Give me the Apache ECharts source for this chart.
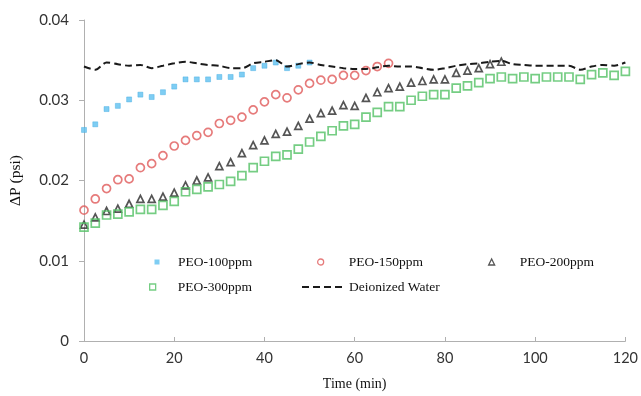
<!DOCTYPE html>
<html>
<head>
<meta charset="utf-8">
<script src="https://cdn.jsdelivr.net/npm/echarts@6/dist/echarts.min.js"></script>
<style>html,body{margin:0;padding:0;background:#fff}#c{width:641px;height:396px}</style>
</head>
<body>
<div id="c"></div>
<script>
var times = [0,2.5,5,7.5,10,12.5,15,17.5,20,22.5,25,27.5,30,32.5,35,37.5,40,42.5,45,47.5,50,52.5,55,57.5,60,62.5,65,67.5,70,72.5,75,77.5,80,82.5,85,87.5,90,92.5,95,97.5,100,102.5,105,107.5,110,112.5,115,117.5,120];
var peo100 = [0.0263,0.0270,0.0289,0.0293,0.0301,0.0307,0.0304,0.0310,0.0317,0.0326,0.0326,0.0326,0.0329,0.0329,0.0332,0.0340,0.0343,0.0347,0.0340,0.0343,0.0347];
var peo150 = [0.0163,0.0177,0.0190,0.0201,0.0202,0.0216,0.0221,0.0231,0.0243,0.0250,0.0256,0.0260,0.0271,0.0275,0.0279,0.0288,0.0298,0.0307,0.0303,0.0313,0.0321,0.0325,0.0326,0.0331,0.0331,0.0337,0.0342,0.0346];
var peo200 = [0.0145,0.0154,0.0162,0.0165,0.0171,0.0177,0.0177,0.0180,0.0185,0.0194,0.0200,0.0204,0.0218,0.0223,0.0234,0.0244,0.0250,0.0258,0.0261,0.0268,0.0277,0.0284,0.0287,0.0294,0.0293,0.0303,0.0310,0.0315,0.0317,0.0322,0.0324,0.0326,0.0326,0.0334,0.0337,0.0340,0.0345,0.0348];
var peo300 = [0.0142,0.0147,0.0157,0.0158,0.0161,0.0164,0.0164,0.0169,0.0174,0.0186,0.0189,0.0192,0.0195,0.0199,0.0206,0.0216,0.0224,0.0230,0.0232,0.0239,0.0248,0.0255,0.0262,0.0268,0.0270,0.0279,0.0285,0.0292,0.0292,0.0300,0.0305,0.0307,0.0307,0.0315,0.0318,0.0322,0.0327,0.0329,0.0327,0.0329,0.0327,0.0329,0.0329,0.0329,0.0326,0.0332,0.0334,0.0331,0.0336];
var water = [0.0342,0.0338,0.0347,0.0345,0.0343,0.0344,0.0340,0.0343,0.0346,0.0348,0.0346,0.0344,0.0343,0.0340,0.0340,0.0346,0.0348,0.0350,0.0342,0.0345,0.0347,0.0344,0.0342,0.0340,0.0339,0.0339,0.0341,0.0343,0.0342,0.0342,0.0340,0.0338,0.0340,0.0343,0.0345,0.0346,0.0348,0.0349,0.0345,0.0344,0.0343,0.0343,0.0343,0.0343,0.0338,0.0342,0.0344,0.0343,0.0347];
var xTicks = [0,20,40,60,80,100,120];
var yTicks = [0,0.01,0.02,0.03,0.04];

function pairs(vals){ return vals.map(function(v,i){ return [times[i], v]; }); }

var serif = 'Liberation Serif';
var sans = 'Lato';
var chart = echarts.init(document.getElementById('c'), null, {renderer:'canvas'});

function leg(name, left, top, w, h, pad, extra){
  var o = {data:[name], left:left, top:top, itemWidth:w, itemHeight:h, orient:'horizontal',
    textStyle:{fontFamily:serif, fontSize:13.5, color:'#111', padding:[0,0,0,pad]}, selectedMode:false, padding:0};
  if (extra) for (var k in extra) o[k] = extra[k];
  return o;
}

chart.setOption({
  animation:false,
  backgroundColor:'#fff',
  grid:{left:84, right:12, top:20, bottom:55, containLabel:false},
  legend:[
    leg('PEO-100ppm', 154.5, 255, 5, 5, 13.5, {itemStyle:{borderWidth:0}}),
    leg('PEO-150ppm', 317, 255, 6, 6, 20, {itemStyle:{borderWidth:1.3}}),
    leg('PEO-200ppm', 488, 255, 6, 6, 20, {itemStyle:{borderWidth:1.3}}),
    leg('PEO-300ppm', 149, 280, 6, 6, 17, {itemStyle:{borderWidth:1.3}}),
    leg('Deionized Water', 301, 280, 42, 12, 0,
      {itemStyle:{color:'rgba(0,0,0,0)', borderColor:'rgba(0,0,0,0)', borderWidth:0}})
  ],
  xAxis:{type:'value', min:xTicks[0], max:xTicks[xTicks.length-1], interval:20,
    name:'Time (min)', nameLocation:'middle', nameGap:36,
    nameTextStyle:{fontFamily:serif, fontSize:14, color:'#111'},
    axisLine:{lineStyle:{color:'#b0b0b0', width:1}},
    axisTick:{show:true, inside:true, length:4, lineStyle:{color:'#b0b0b0'}},
    axisLabel:{fontFamily:sans, fontSize:14.5, color:'#333', margin:10},
    splitLine:{show:false}},
  yAxis:{type:'value', min:yTicks[0], max:yTicks[yTicks.length-1], interval:0.01,
    name:'ΔP (psi)', nameLocation:'middle', nameGap:60, nameRotate:90,
    nameTextStyle:{fontFamily:serif, fontSize:15.5, color:'#111'},
    axisLine:{show:true, lineStyle:{color:'#b0b0b0', width:1}},
    axisTick:{show:true, length:5, lineStyle:{color:'#b0b0b0'}},
    axisLabel:{fontFamily:sans, fontSize:15, color:'#333', margin:15,
      formatter:function(v){ return v===0 ? '0' : v.toFixed(2); }},
    splitLine:{show:false}},
  series:[
    {name:'PEO-100ppm', type:'scatter', data:pairs(peo100), symbol:'rect', symbolSize:5,
      itemStyle:{color:'#5ec0f0', borderColor:'#3aa8e0', borderWidth:0.5}},
    {name:'PEO-150ppm', type:'scatter', data:pairs(peo150), symbol:'circle', symbolSize:8,
      itemStyle:{color:'rgba(255,255,255,0)', borderColor:'#e05a5a', borderWidth:1.7}},
    {name:'PEO-200ppm', type:'scatter', data:pairs(peo200), symbol:'triangle', symbolSize:7,
      itemStyle:{color:'rgba(255,255,255,0)', borderColor:'#2a2a2a', borderWidth:1.7}},
    {name:'PEO-300ppm', type:'scatter', data:pairs(peo300), symbol:'rect', symbolSize:8,
      itemStyle:{color:'rgba(255,255,255,0)', borderColor:'#52c064', borderWidth:1.7}},
    {name:'Deionized Water', type:'line', data:pairs(water), symbol:'none', smooth:0.3,
      lineStyle:{color:'#1a1a1a', width:2, type:[7,4]}, itemStyle:{color:'#1a1a1a'}}
  ]
});
</script>
</body>
</html>
